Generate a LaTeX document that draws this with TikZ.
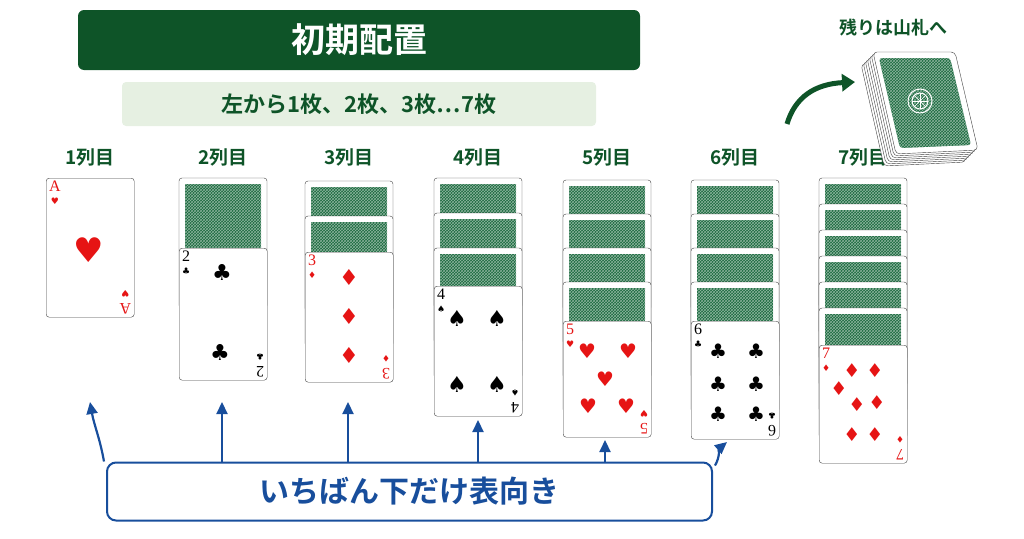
\documentclass[tikz,border=0pt]{standalone}
\usepackage{fontspec}
\setmainfont{Noto Sans CJK JP}[BoldFont={Noto Sans CJK JP Bold}]
\newfontfamily\suitfont{DejaVu Sans}
\newfontfamily\rankfont{Liberation Serif}
\usepackage{tikz}
\usetikzlibrary{arrows.meta, calc, patterns, positioning}

\definecolor{titlegreen}{RGB}{14,84,40}
\definecolor{palegreen}{RGB}{230,240,226}
\definecolor{backgreen}{RGB}{24,104,60}
\definecolor{notblue}{RGB}{24,78,156}
\definecolor{suitred}{RGB}{230,20,20}

% back of a card: x, top
\newcommand{\backcard}[2]{%
  \draw[cardframe] (#1,#2) rectangle ++(88,130);
  \fill[backgreen] (#1+6,#2+6) rectangle ++(76,118);
  \fill[pattern=crosshatch, pattern color=white!50!backgreen] (#1+6,#2+6) rectangle ++(76,118);
}
% face of a card: name, x, top, height, rank, suit, colour, pips (dx/dy/size)
\newcommand{\facecard}[8]{%
  \node[card, minimum height=#4pt] (#1) at (#2,#3) {};
  \node[corner, text=#7] at ([shift={(2pt,-2pt)}]#1.north west) {{\rankfont #5}\\{\suitfont\small #6}};
  \node[corner, text=#7, rotate=180] at ([shift={(-2pt,2pt)}]#1.south east) {{\rankfont #5}\\{\suitfont\small #6}};
  \foreach \dx/\dy/\sz in {#8}
    \node[pip, text=#7, font=\suitfont\fontsize{\sz}{\sz}\selectfont] at ($(#1.north west)+(\dx,\dy)$) {#6};
}

\begin{document}
\begin{tikzpicture}[x=1pt, y=-1pt,
  card/.style={draw=black!75, fill=white, rounded corners=3pt, minimum width=88pt, anchor=north west, inner sep=0pt},
  cardframe/.style={draw=black!75, fill=white, rounded corners=3pt},
  corner/.style={anchor=north west, align=center, inner sep=1pt, font=\fontsize{16}{13}\selectfont},
  pip/.style={inner sep=0pt},
  collabel/.style={font=\bfseries\fontsize{19}{19}\selectfont, text=titlegreen},
  uparrow/.style={draw=notblue, line width=2.2pt, -{Triangle[length=12pt,width=11pt]}}
]
\useasboundingbox (0,0) rectangle (1024,538);

% Titles
\node[fill=titlegreen, rounded corners=6pt, minimum width=562pt, minimum height=60pt,
  text=white, font=\bfseries\fontsize{34}{34}\selectfont] (title) at (359,40) {初期配置};
\node[fill=palegreen, rounded corners=4pt, minimum width=474pt, minimum height=44pt,
  text=titlegreen, font=\bfseries\fontsize{22}{22}\selectfont] (sub) at (359,104) {左から1枚、2枚、3枚…7枚};

% Column labels
\foreach \x [count=\i] in {90,223,349,478,607,735,863}
  \node[collabel] (lab\i) at (\x,157) {\i{}列目};

% Column 1
\facecard{c1}{46}{178}{139}{A}{♥}{suitred}{43/72/34}

% Column 2
\backcard{179}{178}
\facecard{c2}{179}{248}{132}{2}{♣}{black}{43/24/22, 41/104/22}

% Column 3
\foreach \t in {181,216} {\backcard{305}{\t}}
\facecard{c3}{305}{252}{130}{3}{♦}{suitred}{44/25/22, 44/64/22, 44/103/22}

% Column 4
\foreach \t in {178,213,248} {\backcard{434}{\t}}
\facecard{c4}{434}{286}{130}{4}{♠}{black}{23/32/22, 63/32/22, 23/98/22, 63/98/22}

% Column 5
\foreach \t in {180,214,248,282} {\backcard{563}{\t}}
\facecard{c5}{563}{321}{116}{5}{♥}{suitred}{24/30/20, 65/30/20, 42/58/20, 25/85/20, 63/85/20}

% Column 6
\foreach \t in {180,214,248,282} {\backcard{691}{\t}}
\facecard{c6}{691}{321}{118}{6}{♣}{black}{27/30/20, 65/30/20, 27/63/20, 65/63/20, 27/93/20, 65/93/20}

% Column 7
\foreach \t in {178,204,230,256,282,308} {\backcard{819}{\t}}
\facecard{c7}{819}{345}{118}{7}{♦}{suitred}{20/44/19, 33/26/19, 56/26/19, 38/60/19, 58/58/19, 33/90/19, 56/90/19}

% Deck
\foreach \i in {6,5,...,0}
  \draw[draw=black!75, fill=white, rounded corners=4pt, shift={(-2*\i,2*\i)}]
    (873,52) -- (955,52) -- (978,150) -- (896,154) -- cycle;
\fill[backgreen, rounded corners=3pt] (879,58) -- (950,58) -- (971,145) -- (900,148) -- cycle;
\fill[pattern=crosshatch, pattern color=white!50!backgreen, rounded corners=3pt] (879,58) -- (950,58) -- (971,145) -- (900,148) -- cycle;
\draw[white, line width=1pt] (920,101) circle (12) circle (8);
\foreach \a in {0,45,...,315} \draw[white, line width=0.6pt] (920,101) -- ++(\a:8);
\node[font=\bfseries\fontsize{18}{18}\selectfont, text=titlegreen] (rest) at (893,28) {残りは山札へ};
\coordinate (from) at (787,124);
\coordinate (deck) at (855,82);
\draw[titlegreen, line width=5pt, -{Triangle[length=13pt,width=17pt]}] (from) .. controls (795,97) and (815,84) .. (deck);

% Note
\node[draw=notblue, line width=2pt, fill=white, rounded corners=9pt, minimum width=605pt, minimum height=58pt,
  text=notblue, font=\bfseries\fontsize{30}{30}\selectfont] (note) at (409.5,491.5) {いちばん下だけ表向き};
\foreach \tx/\ty [count=\i] in {222/402, 348/402, 478/420, 605/440}
  \coordinate (t\i) at (\tx,\ty);
\coordinate (t0) at (90,402);
\coordinate (t5) at (727,442);
\draw[uparrow] ([xshift=-2pt]note.north west) to[out=100, in=-80] (t0);
\foreach \i in {1,...,4}
  \draw[uparrow] (note.north -| t\i) -- (t\i);
\draw[uparrow] ([xshift=2pt,yshift=-4pt]note.north east) to[out=60, in=-140] (t5);
\end{tikzpicture}
\end{document}
